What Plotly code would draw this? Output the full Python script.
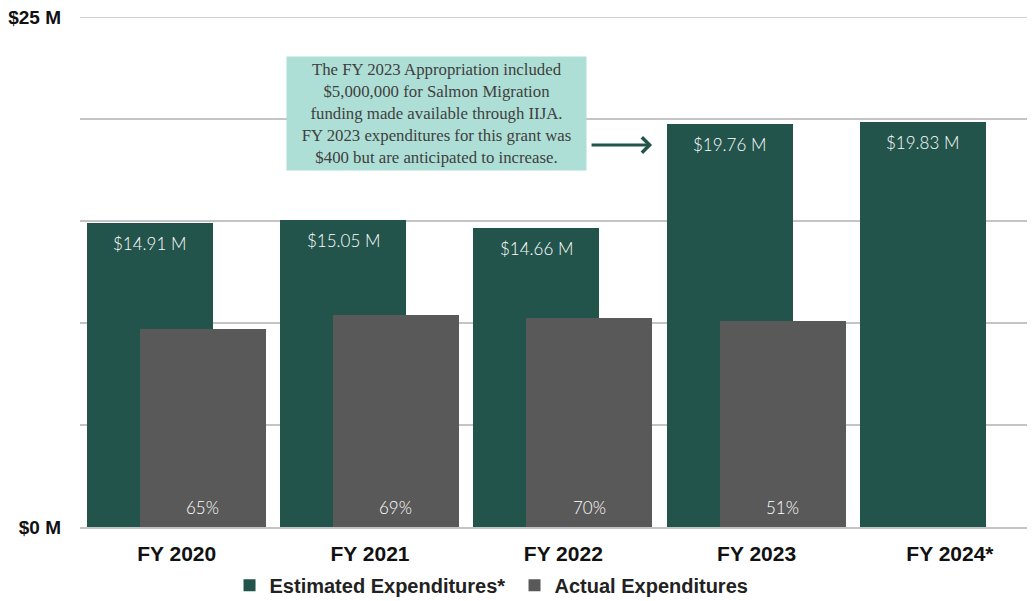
import plotly.graph_objects as go

categories = ["FY 2020", "FY 2021", "FY 2022", "FY 2023", "FY 2024*"]
estimated = [14.91, 15.05, 14.66, 19.76, 19.83]
actual = [9.69, 10.38, 10.26, 10.08, None]
pct_labels = ["65%", "69%", "70%", "51%"]
est_labels = ["$14.91 M", "$15.05 M", "$14.66 M", "$19.76 M", "$19.83 M"]
y_tickvals = [0, 5, 10, 15, 20, 25]
y_ticktext = ["$0 M", "", "", "", "", "$25 M"]

EST_COLOR = "#23544C"
ACT_COLOR = "#595959"
GRID = "#C4C4C4"
BAR_W = 0.653
EST_OFF = -0.466
ACT_OFF = -0.192

fig = go.Figure()
fig.add_trace(go.Bar(
    name="Estimated Expenditures*", x=categories, y=estimated,
    marker=dict(color=EST_COLOR, line=dict(width=0)),
    width=BAR_W, offset=EST_OFF,
))
fig.add_trace(go.Bar(
    name="Actual Expenditures", x=categories, y=actual,
    marker=dict(color=ACT_COLOR, line=dict(width=0)),
    width=BAR_W, offset=ACT_OFF,
))

annotations = []
label_font = dict(family="Lato", size=17, color="white", weight=300)
for i, (v, t) in enumerate(zip(estimated, est_labels)):
    annotations.append(dict(
        x=i + EST_OFF + BAR_W / 2, y=v, xref="x", yref="y", text=t,
        showarrow=False, yanchor="top", yshift=-8, font=label_font,
    ))
for i, t in enumerate(pct_labels):
    annotations.append(dict(
        x=i + ACT_OFF + BAR_W / 2, y=0, xref="x", yref="y", text=t,
        showarrow=False, yanchor="bottom", yshift=7, font=label_font,
    ))

annotations.append(dict(
    xref="paper", yref="paper", x=0.3733, y=0.8108,
    xanchor="center", yanchor="middle", showarrow=False,
    text=("The FY 2023 Appropriation included<br>$5,000,000 for Salmon Migration<br>"
          "funding made available through IIJA.<br>FY 2023 expenditures for this grant was<br>"
          "$400 but are anticipated to increase."),
    align="center", bgcolor="#AEDFD6", width=299, height=113, borderpad=0,
    font=dict(family="Liberation Serif", size=16.8, color="#404040"),
))
annotations.append(dict(
    xref="paper", yref="paper", x=0.599, y=0.749, text="",
    showarrow=True, ax=-62, ay=0, arrowhead=4, arrowsize=1,
    arrowwidth=3, arrowcolor=EST_COLOR,
))

# top gridline at the axis maximum
fig.add_shape(type="line", xref="paper", yref="y", x0=0, x1=1,
              y0=y_tickvals[-1], y1=y_tickvals[-1], line=dict(color=GRID, width=1.5), layer="below")

# The page body has an 8px margin, so the figure is sized/offset to compensate.
fig.update_layout(
    width=1027, height=593,
    margin=dict(l=72, r=0, t=9, b=74, autoexpand=False),
    plot_bgcolor="white", paper_bgcolor="white",
    barmode="overlay", showlegend=True,
    legend=dict(orientation="h", x=0.455, xanchor="center", y=-0.114, yanchor="middle",
                font=dict(family="Liberation Sans", size=20, color="#222222", weight="bold"),
                itemwidth=30, traceorder="normal", entrywidth=240, entrywidthmode="pixels"),
    annotations=annotations,
    xaxis=dict(range=[-0.5, 4.44], showgrid=False, showline=True, linecolor=GRID, linewidth=1.5,
               tickfont=dict(family="Liberation Sans", size=21, color="#111111", weight="bold"),
               ticks="", ticklabelstandoff=7, automargin=False),
    yaxis=dict(range=[0, 25], tickvals=y_tickvals, ticktext=y_ticktext, showgrid=True,
               gridcolor=GRID, gridwidth=1.5, zeroline=False,
               tickfont=dict(family="Liberation Sans", size=19, color="#111111", weight="bold"),
               ticks="", ticklabelstandoff=18, automargin=False, ticklabeloverflow="allow"),
    bargap=0,
)
fig.write_html("out.html")
